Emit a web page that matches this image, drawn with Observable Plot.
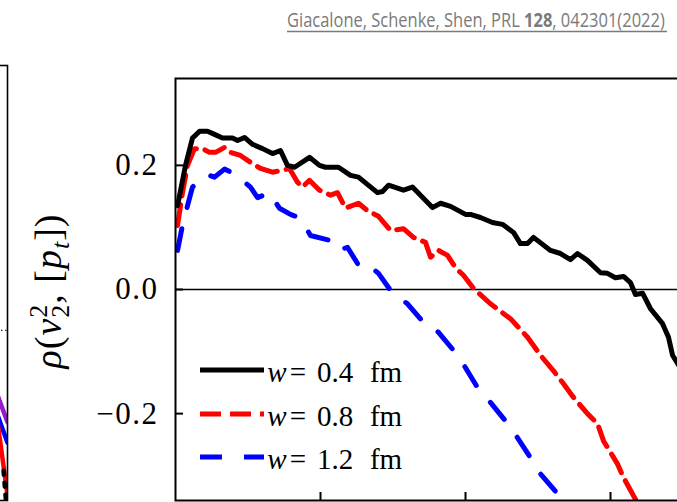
<!DOCTYPE html>
<html><head><meta charset="utf-8">
<script src="https://cdn.jsdelivr.net/npm/d3@7"></script>
<script src="https://cdn.jsdelivr.net/npm/@observablehq/plot@0.6"></script>
<style>
html,body{margin:0;padding:0;background:#fff;overflow:hidden;}
#wrap{position:relative;width:677px;height:502px;overflow:hidden;background:#fff;}
#wrap > svg{position:absolute;top:0;max-width:none !important;}
g[aria-label="y-axis tick label"] text{letter-spacing:1.5px;}
</style></head><body><div id="wrap"></div>
<script>
// ---------- data ----------
const xTicks = [1, 2, 3];
const yTicks = [-0.2, 0, 0.2];
const seriesNames = ["0.4", "0.8", "1.2"];
const seriesColors = ["#000000", "#ff0000", "#0000ff"];

const xW04 = [0.014,0.069,0.117,0.166,0.221,0.269,0.324,0.393,0.428,0.476,0.531,0.600,0.669,0.724,0.772,0.821,0.924,0.993,1.034,1.124,1.207,1.262,1.393,1.428,1.469,1.572,1.634,1.772,1.828,1.897,2.000,2.034,2.103,2.186,2.255,2.331,2.379,2.428,2.469,2.586,2.655,2.724,2.772,2.841,2.931,2.979,3.034,3.090,3.138,3.172,3.221,3.276,3.359,3.400,3.428,3.470];
const yW04 = [0.135,0.200,0.244,0.255,0.255,0.250,0.244,0.244,0.240,0.245,0.234,0.227,0.219,0.224,0.200,0.197,0.213,0.200,0.197,0.197,0.184,0.181,0.156,0.158,0.168,0.160,0.165,0.132,0.139,0.134,0.121,0.121,0.116,0.108,0.105,0.092,0.074,0.074,0.084,0.063,0.058,0.048,0.058,0.047,0.027,0.026,0.019,0.021,0.011,-0.008,-0.006,-0.031,-0.055,-0.077,-0.106,-0.122];

const xW08 = [0.014,0.048,0.083,0.131,0.186,0.234,0.276,0.338,0.379,0.448,0.517,0.586,0.669,0.738,0.786,0.841,0.876,0.924,0.993,1.069,1.117,1.172,1.262,1.324,1.400,1.483,1.572,1.641,1.724,1.759,1.814,1.876,1.931,1.986,2.055,2.172,2.310,2.428,2.517,2.607,2.676,2.745,2.841,2.910,2.952,3.048,3.090,3.186];
const yW08 = [0.103,0.156,0.200,0.227,0.227,0.221,0.221,0.229,0.221,0.216,0.205,0.195,0.189,0.192,0.195,0.173,0.165,0.176,0.160,0.152,0.156,0.131,0.139,0.127,0.118,0.095,0.098,0.084,0.076,0.052,0.063,0.055,0.035,0.023,0.002,-0.023,-0.047,-0.077,-0.106,-0.131,-0.152,-0.174,-0.200,-0.216,-0.244,-0.281,-0.303,-0.344];

const xW12 = [0.014,0.048,0.083,0.117,0.221,0.269,0.338,0.400,0.476,0.517,0.566,0.648,0.717,0.793,0.862,0.931,1.069,1.124,1.186,1.276,1.359,1.400,1.497,1.600,1.710,1.814,1.917,2.000,2.083,2.172,2.290,2.359,2.448,2.517,2.634,2.676];
const yW12 = [0.063,0.103,0.135,0.165,0.185,0.181,0.194,0.187,0.173,0.165,0.148,0.156,0.131,0.121,0.115,0.087,0.079,0.063,0.068,0.034,0.034,0.026,-0.006,-0.023,-0.053,-0.069,-0.098,-0.126,-0.158,-0.182,-0.216,-0.239,-0.271,-0.297,-0.329,-0.344];

// neighbouring panel (only its right edge is visible)
const xLeft = [0.90, 1.00];
const yLeftPurple = [-0.105, -0.148];
const yLeftBlue = [-0.137, -0.181];
const yLeftRed = [-0.150, -0.265];
const xLeftBlack = [0.96, 1.00];
const yLeftBlack = [-0.226, -0.306];

// ---------- build tables ----------
const toRows = (xs, ys) => xs.map((x, i) => ({x, y: ys[i]}));
const d04 = toRows(xW04, yW04), d08 = toRows(xW08, yW08), d12 = toRows(xW12, yW12);

const wrap = document.getElementById("wrap");

// ---------- neighbouring panel ----------
const left = Plot.plot({
  width: 100, height: 560, marginLeft: 0, marginRight: 2, marginTop: 65, marginBottom: 60,
  x: {domain: [0, 1], axis: null},
  y: {domain: [-0.274, 0.427], axis: null},
  style: {background: "transparent"},
  marks: [
    Plot.ruleY([0], {stroke: "#222", strokeWidth: 1.2, strokeDasharray: "1.5,2.5"}),
    Plot.line(toRows(xLeft, yLeftPurple), {x: "x", y: "y", stroke: "#9a1ad0", strokeWidth: 4.5, clip: true}),
    Plot.line(toRows(xLeft, yLeftBlue), {x: "x", y: "y", stroke: "#0000ff", strokeWidth: 4.5, clip: true}),
    Plot.line(toRows(xLeft, yLeftRed), {x: "x", y: "y", stroke: "#ff0000", strokeWidth: 4.5, clip: true}),
    Plot.line(toRows(xLeftBlack, yLeftBlack), {x: "x", y: "y", stroke: "#000", strokeWidth: 4.5, strokeDasharray: "4,8", clip: true}),
    Plot.frame({stroke: "#000", strokeWidth: 1.6})
  ]
});
left.style.left = "-91px";
wrap.appendChild(left);

// ---------- main panel ----------
const main = Plot.plot({
  width: 760, height: 560,
  marginLeft: 175, marginTop: 78, marginRight: 5, marginBottom: 60,
  x: {domain: [0, 4], axis: null},
  y: {domain: [-0.34, 0.34], axis: null},
  style: {background: "transparent", fontFamily: "'Liberation Serif', serif", color: "#000"},
  marks: [
    Plot.ruleY([0], {stroke: "#000", strokeWidth: 1.3}),
    Plot.line(d12, {x: "x", y: "y", stroke: seriesColors[2], strokeWidth: 5, strokeDasharray: "22,22", clip: true}),
    Plot.line(d08, {x: "x", y: "y", stroke: seriesColors[1], strokeWidth: 5, strokeDasharray: "21,9", clip: true}),
    Plot.line(d04, {x: "x", y: "y", stroke: seriesColors[0], strokeWidth: 5, clip: true}),
    Plot.axisY(yTicks, {tickSize: -8, tickPadding: 25, strokeWidth: 2, fontSize: 31, label: null, tickFormat: d3.format(".1f")}),
    Plot.axisX(xTicks, {tickSize: -8, strokeWidth: 2, label: null, tickFormat: () => ""}),
    Plot.frame({stroke: "#000", strokeWidth: 2})
  ]
});
main.style.left = "0px";
wrap.appendChild(main);

const svg = d3.select(main);
// y label  rho(v_2^2, [p_t])
const lab = svg.append("text")
  .attr("transform", "translate(61,291) rotate(-90)")
  .attr("text-anchor", "middle")
  .attr("font-family", "'Liberation Serif', serif")
  .attr("font-size", 38)
  .attr("letter-spacing", "1px")
  .attr("fill", "#000");
lab.append("tspan").attr("font-style", "italic").text("ρ");
lab.append("tspan").text("(");
lab.append("tspan").attr("font-style", "italic").text("v");
lab.append("tspan").attr("font-size", 26).attr("dy", 8).text("2");
lab.append("tspan").attr("font-size", 26).attr("dx", -14).attr("dy", -22).text("2");
lab.append("tspan").attr("dy", 14).text(", [");
lab.append("tspan").attr("font-style", "italic").text("p");
lab.append("tspan").attr("font-style", "italic").attr("font-size", 26).attr("dy", 8).text("t");
lab.append("tspan").attr("dy", -8).text("])");

// legend
const legY = [370, 414, 457];
const legDash = [null, "21,9", "22,22"];
const legFont = {family: "'Liberation Serif', serif", size: 29};
seriesNames.forEach((name, i) => {
  const g = svg.append("g");
  g.append("line").attr("x1", 200).attr("x2", 264).attr("y1", legY[i]).attr("y2", legY[i])
    .attr("stroke", seriesColors[i]).attr("stroke-width", 5)
    .attr("stroke-dasharray", legDash[i]);
  const parts = [["w", 277, true], ["=", 298, false], [name, 335, false], ["fm", 386, false]];
  parts.forEach(([s, x, it]) => {
    g.append("text").attr("x", x).attr("y", legY[i] + 12)
      .attr("font-family", legFont.family).attr("font-size", legFont.size)
      .attr("font-style", it ? "italic" : null).attr("fill", "#000").text(s);
  });
});

// citation header
const head = d3.select(wrap).append("svg")
  .attr("width", 677).attr("height", 45).style("left", "0px");
const ht = head.append("text")
  .attr("font-family", "'Open Sans', sans-serif").attr("font-size", 20)
  .attr("fill", "#7a7a7a");
ht.append("tspan").text("Giacalone, Schenke, Shen, PRL ");
ht.append("tspan").attr("font-weight", "bold").text("128");
ht.append("tspan").text(", 042301(2022)");
const natural = ht.node().getComputedTextLength();
const sx = 378 / natural;
ht.attr("transform", `translate(287,27) scale(${sx},1)`);
head.append("line").attr("x1", 287).attr("x2", 667).attr("y1", 31.5).attr("y2", 31.5)
  .attr("stroke", "#7a7a7a").attr("stroke-width", 1.4);
</script></body></html>
